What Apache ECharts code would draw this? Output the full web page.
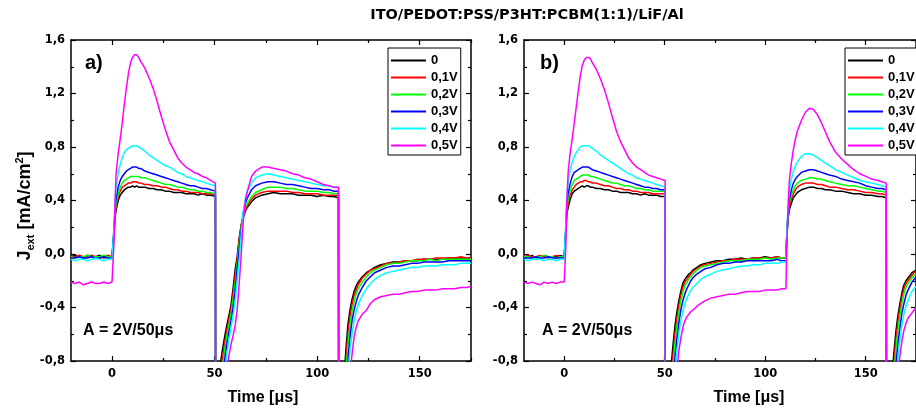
<!DOCTYPE html>
<html><head><meta charset="utf-8">
<script src="https://cdn.jsdelivr.net/npm/echarts@6/dist/echarts.min.js"></script>
<style>html,body{margin:0;padding:0;background:#fff}#c{width:916px;height:412px}</style>
</head><body><div id="c"></div>
<script>
// ---------- DATA ----------
const seriesNames = ['0', '0,1V', '0,2V', '0,3V', '0,4V', '0,5V'];
const xMajorTicks = [0, 50, 100, 150];
const xMinorTicks = [25, 75, 125, 175];
const titleText = 'ITO/PEDOT:PSS/P3HT:PCBM(1:1)/LiF/Al';

// Panel a) time samples [µs]
const timeA = [
  -20,-18,-16,-14,-12,-10,-8,-6,-4,-2,0,
  0.6,1,1.5,2,3,4,5,6,7,8,9,10,11,12,13,14,
  16,18,20,22,24,26,28,30,32,34,36,38,40,42,44,46,48,
  50.4, 50.6,
  52,53,54,55,56,57,58,59,60,61,62,63,64,65,66,
  68,70,73,76,79,82,85,88,91,94,97,100,103,106,108,
  110.4, 110.6,
  112,113,114,115,116,117,118,119,120,
  122,124,126,128,
  131,134,137,140,143,146,149,152,155,158,161,164,167,170,173,
  175
];
const a0 = [
  -0.02,-0.01,-0.02,-0.03,-0.01,-0.02,-0.02,-0.01,-0.03,-0.02,-0.02,
  -0.01,0.15,0.28,0.33,0.4,0.44,0.46,0.48,0.49,0.5,0.5,0.51,0.5,0.51,0.5,0.5,
  0.5,0.49,0.49,0.48,0.48,0.47,0.47,0.46,0.46,0.46,0.45,0.45,0.45,0.44,0.45,0.44,0.44,
  0.43, -3,
  -1.3,-0.8,-0.7,-0.61,-0.53,-0.46,-0.38,-0.26,-0.12,-0.02,0.12,0.22,0.28,0.32,0.35,
  0.39,0.42,0.44,0.45,0.46,0.45,0.45,0.45,0.44,0.44,0.44,0.43,0.44,0.43,0.43,
  0.42, -3,
  -1.3,-0.95,-0.72,-0.53,-0.42,-0.34,-0.28,-0.24,-0.21,
  -0.17,-0.14,-0.12,-0.1,
  -0.08,-0.07,-0.06,-0.06,-0.05,-0.05,-0.05,-0.04,-0.04,-0.04,-0.04,-0.03,-0.03,-0.03,-0.03,
  -0.03
];
const a1 = [
  -0.02,-0.02,-0.01,-0.02,-0.02,-0.01,-0.02,-0.03,-0.02,-0.01,-0.02,
  -0.01,0.17,0.3,0.36,0.43,0.47,0.5,0.51,0.52,0.53,0.53,0.54,0.54,0.54,0.53,0.53,
  0.52,0.52,0.51,0.51,0.5,0.5,0.49,0.48,0.48,0.47,0.47,0.46,0.46,0.46,0.45,0.45,0.45,
  0.44, -3,
  -1.4,-0.88,-0.76,-0.66,-0.57,-0.49,-0.41,-0.3,-0.17,-0.05,0.1,0.21,0.29,0.33,0.36,
  0.41,0.44,0.46,0.47,0.47,0.47,0.47,0.46,0.46,0.45,0.45,0.45,0.44,0.44,0.44,
  0.44, -3,
  -1.4,-1.05,-0.8,-0.6,-0.47,-0.38,-0.31,-0.27,-0.23,
  -0.18,-0.15,-0.12,-0.11,
  -0.09,-0.07,-0.07,-0.06,-0.05,-0.05,-0.04,-0.04,-0.04,-0.03,-0.03,-0.03,-0.03,-0.02,-0.03,
  -0.03
];
const a2 = [
  -0.02,-0.03,-0.02,-0.02,-0.01,-0.02,-0.02,-0.02,-0.01,-0.02,-0.02,
  -0.01,0.18,0.32,0.38,0.45,0.5,0.53,0.55,0.56,0.57,0.58,0.58,0.58,0.58,0.58,0.57,
  0.57,0.56,0.55,0.54,0.53,0.52,0.52,0.51,0.5,0.5,0.49,0.48,0.48,0.47,0.47,0.46,0.46,
  0.45, -3,
  -1.5,-0.96,-0.82,-0.71,-0.61,-0.53,-0.45,-0.34,-0.22,-0.08,0.07,0.2,0.3,0.35,0.38,
  0.43,0.46,0.48,0.5,0.5,0.5,0.49,0.49,0.48,0.47,0.47,0.47,0.46,0.46,0.45,
  0.45, -3,
  -1.5,-1.15,-0.9,-0.68,-0.53,-0.43,-0.36,-0.3,-0.26,
  -0.21,-0.17,-0.14,-0.12,
  -0.1,-0.08,-0.07,-0.07,-0.06,-0.05,-0.05,-0.05,-0.04,-0.05,-0.04,-0.04,-0.04,-0.04,-0.04,
  -0.04
];
const a3 = [
  -0.03,-0.03,-0.02,-0.03,-0.03,-0.02,-0.03,-0.03,-0.02,-0.03,-0.03,
  -0.02,0.2,0.35,0.42,0.5,0.55,0.58,0.6,0.62,0.63,0.64,0.65,0.65,0.65,0.64,0.64,
  0.62,0.61,0.6,0.59,0.58,0.57,0.56,0.55,0.54,0.53,0.52,0.51,0.51,0.5,0.49,0.49,0.48,
  0.47, -3,
  -1.7,-1.1,-0.92,-0.78,-0.67,-0.58,-0.5,-0.4,-0.28,-0.12,0.03,0.18,0.31,0.38,0.42,
  0.48,0.51,0.53,0.54,0.54,0.53,0.52,0.52,0.51,0.5,0.49,0.49,0.48,0.48,0.47,
  0.47, -3,
  -1.7,-1.3,-1.0,-0.8,-0.62,-0.5,-0.42,-0.36,-0.31,
  -0.25,-0.2,-0.17,-0.14,
  -0.12,-0.1,-0.09,-0.09,-0.08,-0.07,-0.07,-0.06,-0.06,-0.06,-0.06,-0.05,-0.05,-0.05,-0.05,
  -0.05
];
const a4 = [
  -0.04,-0.05,-0.04,-0.04,-0.05,-0.04,-0.03,-0.04,-0.05,-0.04,-0.04,
  -0.04,0.2,0.4,0.5,0.6,0.67,0.72,0.76,0.78,0.79,0.8,0.81,0.81,0.81,0.8,0.79,
  0.77,0.74,0.72,0.7,0.68,0.66,0.65,0.63,0.61,0.6,0.58,0.57,0.56,0.55,0.54,0.53,0.52,
  0.51, -3,
  -1.9,-1.25,-1.05,-0.87,-0.75,-0.64,-0.55,-0.46,-0.36,-0.2,-0.04,0.15,0.32,0.42,0.47,
  0.53,0.57,0.59,0.6,0.59,0.58,0.57,0.56,0.55,0.54,0.53,0.52,0.51,0.51,0.5,
  0.5, -3,
  -2.0,-1.5,-1.15,-0.9,-0.72,-0.6,-0.5,-0.43,-0.38,
  -0.31,-0.26,-0.22,-0.19,
  -0.16,-0.14,-0.13,-0.12,-0.11,-0.1,-0.1,-0.09,-0.09,-0.09,-0.08,-0.08,-0.08,-0.07,-0.07,
  -0.07
];
const a5 = [
  -0.21,-0.22,-0.21,-0.23,-0.22,-0.21,-0.22,-0.22,-0.21,-0.22,-0.21,
  -0.21,0.1,0.4,0.6,0.75,0.86,0.98,1.12,1.24,1.35,1.43,1.47,1.49,1.49,1.47,1.44,
  1.39,1.32,1.24,1.14,1.03,0.93,0.84,0.78,0.72,0.68,0.65,0.63,0.61,0.6,0.58,0.57,0.55,
  0.53, -3,
  -2.2,-1.4,-1.2,-1.0,-0.86,-0.76,-0.68,-0.61,-0.54,-0.42,-0.22,0.0,0.25,0.4,0.47,
  0.58,0.62,0.65,0.65,0.64,0.63,0.62,0.6,0.59,0.57,0.56,0.54,0.52,0.51,0.5,
  0.5, -3,
  -2.3,-1.8,-1.4,-1.1,-0.9,-0.75,-0.62,-0.55,-0.5,
  -0.45,-0.42,-0.37,-0.34,
  -0.32,-0.31,-0.3,-0.3,-0.29,-0.28,-0.28,-0.27,-0.27,-0.27,-0.26,-0.26,-0.26,-0.25,-0.25,
  -0.24
];

// Panel b) time samples [µs]
const timeB = [
  -20,-18,-16,-14,-12,-10,-8,-6,-4,-2,0,
  0.4,0.8,1.3,2,3,4,5,6,7,8,9,10,11,12,13,14,
  16,18,20,22,24,26,28,30,32,34,36,38,40,42,44,46,48,
  50.2, 50.4,
  52,53,54,55,56,57,58,59,60,61,62,63,64,
  66,68,70,73,76,79,82,85,88,91,94,97,100,103,106,108,
  110.3,
  110.8,111.5,112,113,114,115,116,118,120,122,124,126,128,130,132,135,138,141,144,147,150,153,156,158,160.2,
  160.4,
  162,163,164,165,166,167,168,169,170,171,172,173,174,175
];
const b0 = [
  -0.02,-0.02,-0.01,-0.03,-0.02,-0.01,-0.02,-0.02,-0.02,-0.01,-0.02,
  -0.02,0.15,0.3,0.35,0.41,0.45,0.47,0.48,0.49,0.5,0.51,0.5,0.51,0.51,0.5,0.5,
  0.49,0.49,0.48,0.48,0.47,0.47,0.46,0.46,0.46,0.45,0.45,0.44,0.45,0.44,0.44,0.44,0.43,
  0.43, -3,
  -1.3,-0.87,-0.7,-0.55,-0.44,-0.35,-0.28,-0.22,-0.19,-0.17,-0.15,-0.14,-0.12,
  -0.1,-0.08,-0.07,-0.06,-0.05,-0.05,-0.04,-0.04,-0.03,-0.04,-0.03,-0.03,-0.02,-0.03,-0.02,-0.03,
  -0.03,
  0.15,0.28,0.33,0.38,0.42,0.44,0.46,0.48,0.49,0.5,0.5,0.49,0.49,0.48,0.48,0.47,0.47,0.46,0.45,0.45,0.44,0.44,0.43,0.43,0.42,
  -3,
  -1.4,-0.92,-0.74,-0.58,-0.46,-0.37,-0.29,-0.23,-0.2,-0.18,-0.16,-0.14,-0.13,-0.12
];
const b1 = [
  -0.02,-0.01,-0.02,-0.02,-0.01,-0.02,-0.03,-0.02,-0.01,-0.02,-0.02,
  -0.02,0.17,0.32,0.38,0.44,0.48,0.5,0.52,0.53,0.54,0.54,0.55,0.55,0.54,0.54,0.53,
  0.53,0.52,0.51,0.51,0.5,0.49,0.49,0.48,0.48,0.47,0.47,0.46,0.46,0.46,0.45,0.45,0.45,
  0.45, -3,
  -1.4,-0.95,-0.78,-0.61,-0.49,-0.39,-0.31,-0.25,-0.21,-0.19,-0.17,-0.15,-0.13,
  -0.11,-0.09,-0.08,-0.07,-0.06,-0.05,-0.05,-0.04,-0.04,-0.04,-0.03,-0.03,-0.03,-0.03,-0.02,-0.03,
  -0.03,
  0.16,0.3,0.35,0.41,0.45,0.48,0.5,0.52,0.53,0.53,0.53,0.52,0.52,0.51,0.5,0.5,0.49,0.48,0.48,0.47,0.46,0.46,0.45,0.45,0.44,
  -3,
  -1.5,-1.0,-0.82,-0.64,-0.51,-0.41,-0.32,-0.26,-0.22,-0.2,-0.18,-0.16,-0.14,-0.13
];
const b2 = [
  -0.02,-0.02,-0.03,-0.02,-0.02,-0.01,-0.02,-0.02,-0.03,-0.02,-0.02,
  -0.02,0.18,0.34,0.41,0.48,0.52,0.55,0.56,0.57,0.58,0.59,0.59,0.59,0.59,0.58,0.58,
  0.57,0.56,0.55,0.54,0.53,0.53,0.52,0.51,0.51,0.5,0.49,0.49,0.48,0.48,0.47,0.47,0.47,
  0.47, -3,
  -1.5,-1.05,-0.86,-0.68,-0.55,-0.44,-0.35,-0.29,-0.24,-0.21,-0.19,-0.17,-0.15,
  -0.12,-0.1,-0.09,-0.08,-0.07,-0.06,-0.05,-0.05,-0.05,-0.04,-0.04,-0.04,-0.03,-0.04,-0.03,-0.03,
  -0.03,
  0.17,0.32,0.38,0.44,0.48,0.51,0.53,0.55,0.56,0.57,0.57,0.56,0.56,0.55,0.54,0.53,0.52,0.51,0.51,0.5,0.49,0.48,0.47,0.47,0.46,
  -3,
  -1.6,-1.1,-0.9,-0.71,-0.57,-0.46,-0.37,-0.3,-0.25,-0.22,-0.2,-0.18,-0.16,-0.15
];
const b3 = [
  -0.03,-0.03,-0.03,-0.02,-0.03,-0.03,-0.02,-0.03,-0.03,-0.03,-0.03,
  -0.03,0.2,0.38,0.46,0.53,0.58,0.61,0.62,0.63,0.64,0.65,0.65,0.65,0.65,0.64,0.63,
  0.62,0.61,0.6,0.59,0.58,0.57,0.56,0.55,0.54,0.53,0.52,0.51,0.5,0.5,0.49,0.49,0.48,
  0.48, -3,
  -1.7,-1.2,-0.98,-0.79,-0.64,-0.52,-0.42,-0.35,-0.3,-0.26,-0.23,-0.2,-0.18,
  -0.15,-0.13,-0.11,-0.1,-0.08,-0.07,-0.07,-0.06,-0.06,-0.05,-0.05,-0.05,-0.05,-0.05,-0.04,-0.05,
  -0.05,
  0.18,0.34,0.41,0.48,0.53,0.56,0.58,0.61,0.62,0.63,0.63,0.62,0.61,0.6,0.59,0.58,0.56,0.55,0.54,0.53,0.51,0.5,0.49,0.49,0.48,
  -3,
  -1.8,-1.25,-1.02,-0.83,-0.67,-0.55,-0.44,-0.37,-0.31,-0.27,-0.24,-0.21,-0.19,-0.17
];
const b4 = [
  -0.04,-0.05,-0.04,-0.04,-0.04,-0.05,-0.04,-0.04,-0.05,-0.04,-0.04,
  -0.04,0.22,0.43,0.54,0.63,0.69,0.73,0.76,0.78,0.8,0.81,0.81,0.81,0.81,0.8,0.79,
  0.77,0.74,0.72,0.7,0.68,0.66,0.64,0.62,0.6,0.59,0.57,0.56,0.55,0.54,0.53,0.52,0.51,
  0.5, -3,
  -1.9,-1.35,-1.1,-0.9,-0.74,-0.6,-0.5,-0.43,-0.37,-0.33,-0.3,-0.27,-0.25,
  -0.22,-0.19,-0.17,-0.15,-0.13,-0.12,-0.11,-0.1,-0.09,-0.09,-0.08,-0.08,-0.07,-0.07,-0.07,-0.06,
  -0.06,
  0.2,0.38,0.47,0.56,0.62,0.66,0.69,0.73,0.75,0.75,0.74,0.72,0.7,0.68,0.66,0.63,0.61,0.59,0.57,0.55,0.54,0.53,0.52,0.51,0.5,
  -3,
  -2.0,-1.42,-1.16,-0.95,-0.78,-0.64,-0.53,-0.45,-0.39,-0.35,-0.31,-0.28,-0.26,-0.24
];
const b5 = [
  -0.21,-0.22,-0.21,-0.22,-0.23,-0.21,-0.22,-0.21,-0.22,-0.21,-0.21,
  -0.21,0.05,0.4,0.62,0.76,0.86,0.98,1.1,1.22,1.33,1.41,1.45,1.47,1.47,1.46,1.43,
  1.38,1.31,1.23,1.13,1.02,0.92,0.84,0.78,0.72,0.68,0.65,0.63,0.61,0.59,0.58,0.57,0.56,
  0.55, -3,
  -2.2,-1.5,-1.25,-1.05,-0.88,-0.73,-0.63,-0.55,-0.5,-0.47,-0.45,-0.43,-0.42,
  -0.39,-0.37,-0.35,-0.33,-0.32,-0.31,-0.3,-0.3,-0.29,-0.28,-0.28,-0.28,-0.27,-0.27,-0.27,-0.26,
  -0.26,
  0.1,0.4,0.55,0.68,0.78,0.86,0.92,1.0,1.06,1.09,1.08,1.04,0.98,0.91,0.84,0.76,0.71,0.67,0.63,0.6,0.58,0.56,0.55,0.54,0.53,
  -3,
  -2.3,-1.6,-1.3,-1.08,-0.9,-0.76,-0.65,-0.57,-0.52,-0.48,-0.46,-0.44,-0.42,-0.4
];

// ---------- STYLE / BUILD ----------
const colors = ['#000000', '#ff0000', '#00ff00', '#0000ff', '#00ffff', '#ff00ff'];
const ARIAL = 'Liberation Sans, Arial, sans-serif';
const TICKF = 'DejaVu Sans, sans-serif';

function zip(t, v, name) {
  if (t.length !== v.length) throw new Error('length mismatch ' + name + ': ' + t.length + ' vs ' + v.length);
  return t.map((x, i) => [x, v[i]]);
}

const panels = [
  { t: timeA, vals: [a0, a1, a2, a3, a4, a5], left: 71, tag: 'a' },
  { t: timeB, vals: [b0, b1, b2, b3, b4, b5], left: 524, tag: 'b' }
];

const grids = [], xAxes = [], yAxes = [], series = [];
const lineBlack = { color: '#000', width: 1.5 };
panels.forEach((p, g) => {
  grids.push({ left: p.left, top: 40, width: 400, height: 321 });
  const base = { type: 'value', gridIndex: g, min: -20, max: 175, splitLine: { show: false } };
  const major = { show: true, inside: true, length: 5, customValues: xMajorTicks, lineStyle: { color: '#000', width: 1.2 } };
  const minor = { show: true, inside: true, length: 3, customValues: xMinorTicks, lineStyle: { color: '#000', width: 1.2 } };
  xAxes.push(Object.assign({}, base, { position: 'bottom', axisLine: { show: true, onZero: false, lineStyle: lineBlack }, axisTick: major,
    axisLabel: { customValues: xMajorTicks, color: '#000', fontFamily: TICKF, fontWeight: 'bold', fontSize: 11.5, margin: 7 } }));
  xAxes.push(Object.assign({}, base, { position: 'bottom', axisLine: { show: false, onZero: false }, axisTick: minor, axisLabel: { show: false } }));
  xAxes.push(Object.assign({}, base, { position: 'top', axisLine: { show: true, onZero: false, lineStyle: lineBlack }, axisTick: major, axisLabel: { show: false } }));
  xAxes.push(Object.assign({}, base, { position: 'top', axisLine: { show: false, onZero: false }, axisTick: minor, axisLabel: { show: false } }));
  const ybase = { type: 'value', gridIndex: g, min: -0.8, max: 1.6, interval: 0.4, splitLine: { show: false }, minorSplitLine: { show: false },
    axisLine: { show: true, onZero: false, lineStyle: lineBlack },
    axisTick: { show: true, inside: true, length: 5, lineStyle: { color: '#000', width: 1.2 } },
    minorTick: { show: true, splitNumber: 2, length: 3, lineStyle: { color: '#000', width: 1.2 } } };
  yAxes.push(Object.assign({}, ybase, { position: 'left',
    axisLabel: { color: '#000', fontFamily: TICKF, fontWeight: 'bold', fontSize: 11.5, margin: 6,
      formatter: v => v.toFixed(1).replace('.', ',') } }));
  yAxes.push(Object.assign({}, ybase, { position: 'right', axisLabel: { show: false } }));
  p.vals.forEach((v, i) => {
    series.push({ type: 'line', name: seriesNames[i], xAxisIndex: g * 4, yAxisIndex: g * 2,
      data: zip(p.t, v, p.tag + i), showSymbol: false, symbol: 'none', clip: true,
      lineStyle: { color: colors[i], width: 1.5 }, itemStyle: { color: colors[i] }, z: 2 + i });
  });
});

const legendBase = { orient: 'vertical', top: 48, data: seriesNames, icon: 'rect', itemWidth: 35, itemHeight: 2,
  itemGap: 4, itemTextGap: 4, selectedMode: false, backgroundColor: '#fff', borderColor: '#000', borderWidth: 1,
  padding: [6, 3, 3, 3], textStyle: { color: '#000', fontFamily: ARIAL, fontWeight: 'bold', fontSize: 13 } };

const txt = (x, y, text, size, align, family) => ({ type: 'text', x, y, z: 50,
  style: { text, fill: '#000', fontFamily: family || ARIAL, fontWeight: 'bold', fontSize: size, align: align || 'left', verticalAlign: 'middle' } });

const option = {
  animation: false,
  backgroundColor: '#fff',
  color: colors,
  grid: grids,
  xAxis: xAxes,
  yAxis: yAxes,
  legend: [Object.assign({}, legendBase, { left: 388 }), Object.assign({}, legendBase, { left: 845 })],
  series,
  graphic: [
    txt(527, 15, titleText, 14.5, 'center', TICKF),
    txt(85, 63, 'a)', 20, 'left'),
    txt(540, 63, 'b)', 20, 'left'),
    txt(83, 331, 'A = 2V/50μs', 16, 'left'),
    txt(542, 331, 'A = 2V/50μs', 16, 'left'),
    txt(263, 398, 'Time [μs]', 16, 'center'),
    txt(749, 398, 'Time [μs]', 16, 'center'),
    { type: 'text', x: 25, y: 206, rotation: Math.PI / 2, z: 50,
      style: { text: '{j|J}{s|ext}{n| [mA/cm}{p|2}{n|]}', align: 'center', verticalAlign: 'middle', fill: '#000',
        rich: {
          j: { fontFamily: ARIAL, fontWeight: 'bold', fontSize: 18, lineHeight: 22, fill: '#000' },
          s: { fontFamily: ARIAL, fontWeight: 'bold', fontSize: 11, lineHeight: 11, verticalAlign: 'bottom', fill: '#000' },
          n: { fontFamily: ARIAL, fontWeight: 'bold', fontSize: 18, lineHeight: 22, fill: '#000' },
          p: { fontFamily: ARIAL, fontWeight: 'bold', fontSize: 11, lineHeight: 11, verticalAlign: 'top', fill: '#000' }
        } } }
  ]
};

const chart = echarts.init(document.getElementById('c'), null, { renderer: 'canvas' });
chart.setOption(option);
</script>
</body></html>
